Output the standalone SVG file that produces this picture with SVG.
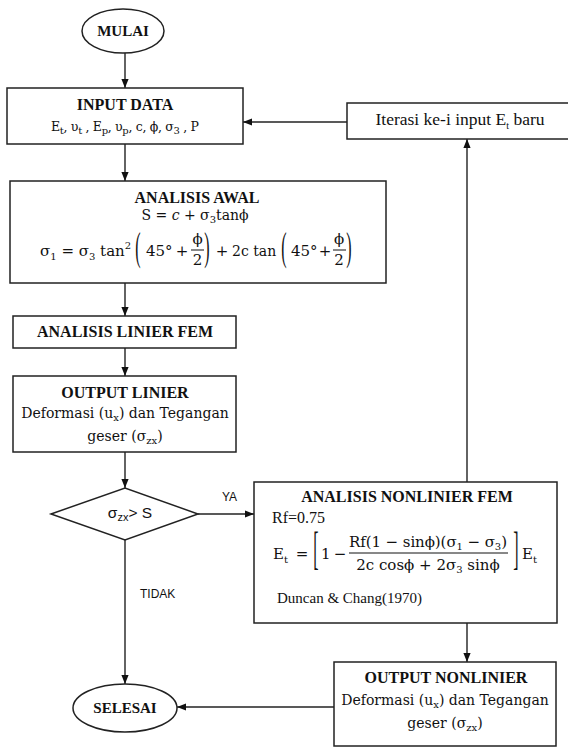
<svg xmlns="http://www.w3.org/2000/svg" width="568" height="749" viewBox="0 0 568 749">
  <defs>
    <style>
      .box { fill: #fff; stroke: #222; stroke-width: 1.5; }
      .ttl { font-family: "Liberation Serif", serif; font-weight: bold; font-size: 16px; text-anchor: middle; fill: #111; }
      .txt { font-family: "Liberation Serif", serif; font-size: 16px; fill: #111; }
      .cam { font-family: "DejaVu Serif", serif; font-size: 14px; fill: #111; }
      .m { font-family: "DejaVu Serif", serif; font-size: 15px; fill: #111; }
      .sub { font-size: 10px; }
      .dl { font-family: "Liberation Serif", serif; font-size: 16px; fill: #111; text-anchor: middle; }
      .sans { font-family: "Liberation Sans", sans-serif; font-size: 12px; fill: #111; }
      .c { text-anchor: middle; }
      .ln { stroke: #222; stroke-width: 1.4; fill: none; marker-end: url(#ah); }
      .bar { stroke: #111; stroke-width: 1; }
    </style>
    <marker id="ah" viewBox="0 0 10 10" refX="10" refY="5" markerWidth="9" markerHeight="9" markerUnits="userSpaceOnUse" orient="auto">
      <path d="M0,1 L10,5 L0,9 z" fill="#111"/>
    </marker>
  </defs>
  <rect width="568" height="749" fill="#fff"/>

  <!-- connectors -->
  <g id="connectors">
    <line class="ln" x1="125" y1="53" x2="125" y2="88"/>
    <line class="ln" x1="125" y1="144" x2="125" y2="181"/>
    <line class="ln" x1="125" y1="283" x2="125" y2="316"/>
    <line class="ln" x1="125" y1="348" x2="125" y2="376"/>
    <line class="ln" x1="125" y1="452" x2="125" y2="488"/>
    <line class="ln" x1="198" y1="514" x2="254" y2="514"/>
    <line class="ln" x1="125" y1="540" x2="125" y2="684"/>
    <line class="ln" x1="467" y1="482" x2="467" y2="139"/>
    <line class="ln" x1="347" y1="122" x2="243" y2="122"/>
    <line class="ln" x1="467" y1="623" x2="467" y2="662"/>
    <line class="ln" x1="334" y1="707" x2="177" y2="707"/>
    <text class="sans" x="222" y="501">YA</text>
    <text class="sans" x="140" y="598">TIDAK</text>
  </g>

  <!-- start -->
  <g id="mulai">
    <ellipse class="box" cx="123" cy="31" rx="41" ry="22"/>
    <text class="ttl" x="123" y="36" style="font-size:15px">MULAI</text>
  </g>

  <!-- input data -->
  <g id="input-data">
    <rect class="box" x="7" y="88" width="236" height="56"/>
    <text class="ttl" x="125" y="110">INPUT DATA</text>
    <text class="m c" x="125" y="131" style="font-size:12.5px" textLength="148" lengthAdjust="spacing">E<tspan class="sub" dy="3">t</tspan><tspan dy="-3">, υ</tspan><tspan class="sub" dy="3">t</tspan><tspan dy="-3"> , E</tspan><tspan class="sub" dy="3">p</tspan><tspan dy="-3">, υ</tspan><tspan class="sub" dy="3">p</tspan><tspan dy="-3">, c, ϕ, σ</tspan><tspan class="sub" dy="3">3</tspan><tspan dy="-3"> , P</tspan></text>
  </g>

  <!-- iteration -->
  <g id="iterasi">
    <rect class="box" x="347" y="103" width="225" height="36"/>
    <text class="txt c" x="460" y="125" style="font-size:17.5px">Iterasi ke-i input E<tspan class="sub" dy="4">t</tspan><tspan dy="-4"> baru</tspan></text>
  </g>

  <!-- initial analysis -->
  <g id="analisis-awal">
    <rect class="box" x="10" y="181" width="376" height="102"/>
    <text class="ttl" x="197" y="203">ANALISIS AWAL</text>
    <text class="m c" x="195" y="220" style="font-size:14px">S = <tspan font-style="italic">c</tspan> + σ<tspan class="sub" dy="3">3</tspan><tspan dy="-3">tanϕ</tspan></text>
    <text class="m" x="40" y="256">σ<tspan class="sub" dy="4">1</tspan><tspan dy="-4"> = σ</tspan><tspan class="sub" dy="4">3</tspan><tspan dy="-4"> tan</tspan><tspan class="sub" dy="-7">2</tspan></text>
    <text class="dl" transform="translate(138,250) scale(1,2.45)" y="4.1">(</text>
    <text class="m" x="146" y="256">45°</text>
    <text class="m c" x="182" y="256">+</text>
    <text class="m c" x="197.5" y="244">ϕ</text>
    <line class="bar" x1="191" y1="250" x2="204" y2="250"/>
    <text class="m c" x="197.5" y="265">2</text>
    <text class="dl" transform="translate(207,250) scale(1,2.45)" y="4.1">)</text>
    <text class="m c" x="222" y="256">+</text>
    <text class="m" x="232" y="256" style="font-size:14px">2c tan</text>
    <text class="dl" transform="translate(284,250) scale(1,2.45)" y="4.1">(</text>
    <text class="m" x="291" y="256">45°</text>
    <text class="m c" x="325" y="256">+</text>
    <text class="m c" x="339" y="244">ϕ</text>
    <line class="bar" x1="333" y1="250" x2="346" y2="250"/>
    <text class="m c" x="339" y="265">2</text>
    <text class="dl" transform="translate(349,250) scale(1,2.45)" y="4.1">)</text>
  </g>

  <!-- linear FEM -->
  <g id="analisis-linier">
    <rect class="box" x="13" y="316" width="223" height="32"/>
    <text class="ttl" x="125" y="337">ANALISIS LINIER FEM</text>
  </g>

  <g id="output-linier">
    <rect class="box" x="13" y="376" width="223" height="76"/>
    <text class="ttl" x="125" y="398">OUTPUT LINIER</text>
    <text class="cam c" x="125" y="418">Deformasi (u<tspan class="sub" dy="3">x</tspan><tspan dy="-3">) dan Tegangan</tspan></text>
    <text class="cam c" x="125" y="441">geser (σ<tspan class="sub" dy="3">zx</tspan><tspan dy="-3">)</tspan></text>
  </g>

  <!-- decision -->
  <g id="cek-geser">
    <polygon class="box" points="51,514 125,488 198,514 125,540"/>
    <text class="sans c" x="130" y="518" style="font-size:15.5px">σ<tspan style="font-size:11px" dy="3">zx</tspan><tspan dy="-3">&gt; S</tspan></text>
  </g>

  <!-- nonlinear FEM -->
  <g id="analisis-nonlinier">
    <rect class="box" x="254" y="482" width="303" height="141"/>
    <text class="ttl" x="407" y="502">ANALISIS NONLINIER FEM</text>
    <text class="txt" x="272" y="523">Rf=0.75</text>
    <text class="m" x="273" y="559">E<tspan class="sub" dy="4">t</tspan></text>
    <text class="m c" x="302" y="559">=</text>
    <text class="dl" transform="translate(316,552) scale(1,2.9)" y="4.1">[</text>
    <text class="m" x="321" y="559">1</text>
    <text class="m c" x="340" y="559">−</text>
    <text class="m c" x="428" y="547" textLength="158" lengthAdjust="spacing">Rf(1 − sinϕ)(σ<tspan class="sub" dy="3">1</tspan><tspan dy="-3"> − σ</tspan><tspan class="sub" dy="3">3</tspan><tspan dy="-3">)</tspan></text>
    <line class="bar" x1="349" y1="553" x2="508" y2="553"/>
    <text class="m c" x="428" y="570">2c cosϕ + 2σ<tspan class="sub" dy="3">3</tspan><tspan dy="-3"> sinϕ</tspan></text>
    <text class="dl" transform="translate(516,552) scale(1,2.9)" y="4.1">]</text>
    <text class="m" x="522" y="559">E<tspan class="sub" dy="4">t</tspan></text>
    <text class="txt" x="277" y="603" style="font-size:15px">Duncan &amp; Chang(1970)</text>
  </g>

  <g id="output-nonlinier">
    <rect class="box" x="334" y="662" width="222" height="84"/>
    <text class="ttl" x="446" y="683">OUTPUT NONLINIER</text>
    <text class="cam c" x="445" y="705">Deformasi (u<tspan class="sub" dy="3">x</tspan><tspan dy="-3">) dan Tegangan</tspan></text>
    <text class="cam c" x="445" y="728">geser (σ<tspan class="sub" dy="3">zx</tspan><tspan dy="-3">)</tspan></text>
  </g>

  <!-- end -->
  <g id="selesai">
    <ellipse class="box" cx="125" cy="708" rx="52" ry="24"/>
    <text class="ttl" x="125" y="713" style="font-size:15px">SELESAI</text>
  </g>
</svg>
